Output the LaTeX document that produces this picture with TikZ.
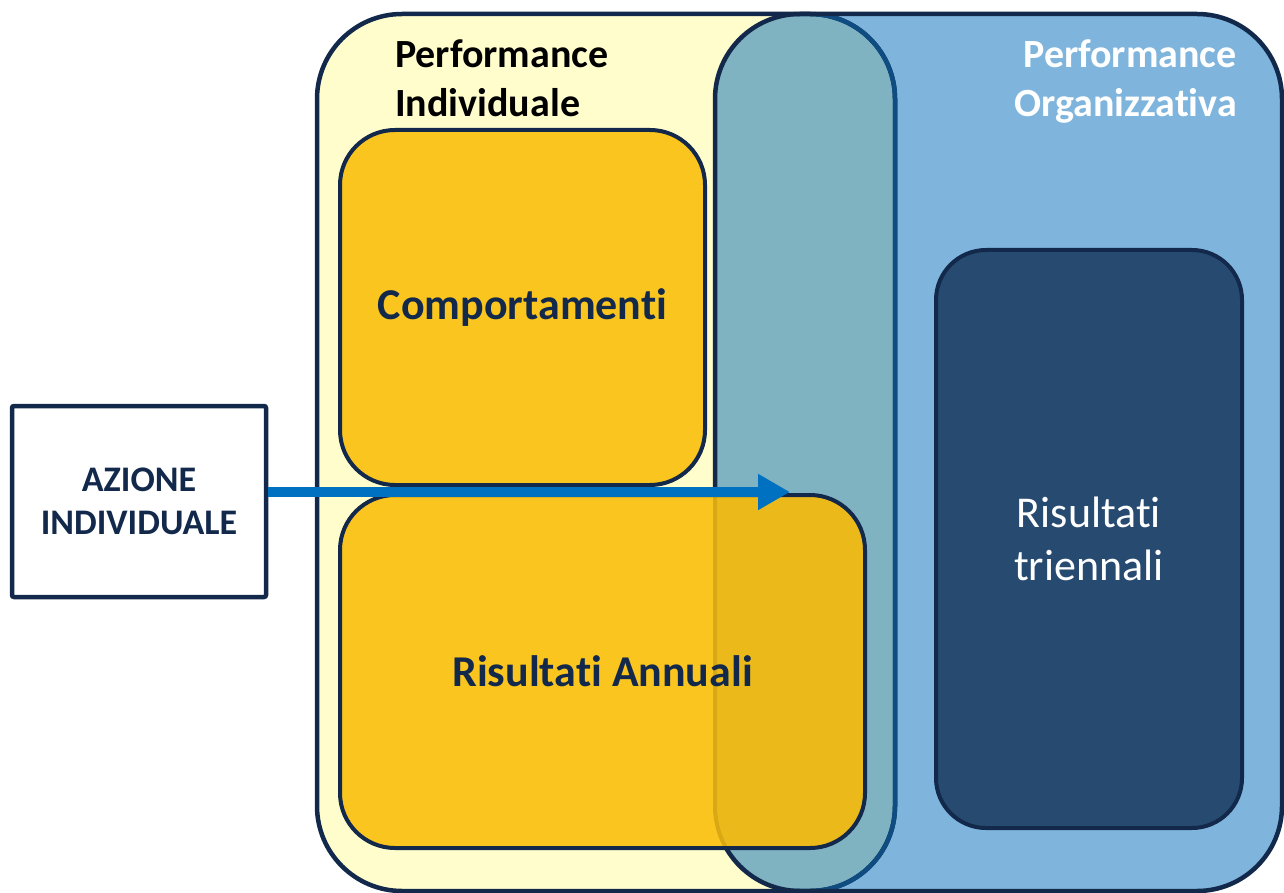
\documentclass[tikz,border=0pt]{standalone}
\usepackage{fontspec}
\setmainfont{Carlito}[Ligatures={NoCommon}]
\usetikzlibrary{arrows.meta}
\definecolor{navy}{HTML}{13294B}
\definecolor{paleyellow}{HTML}{FFFDCC}
\definecolor{lightblue}{HTML}{7FB5DD}
\definecolor{teal}{HTML}{7FB3C1}
\definecolor{gold}{HTML}{FBC51F}
\definecolor{golddark}{HTML}{EBBA1A}
\definecolor{goldline}{HTML}{D8A914}
\definecolor{darkblue}{HTML}{264A70}
\definecolor{arrowblue}{HTML}{0070C0}
\definecolor{edgeblue}{HTML}{0F4C81}
\tikzset{
  bigbox/.style={rounded corners=85pt},
  innerbox/.style={draw=navy, line width=4pt, fill=gold, rounded corners=55pt,
    text=navy, font=\bfseries\fontsize{44}{53}\selectfont, align=center, inner sep=0pt},
  darkbox/.style={draw=navy, line width=4pt, fill=darkblue, rounded corners=50pt,
    text=white, font=\fontsize{44}{53}\selectfont, align=center, inner sep=0pt},
  plainbox/.style={draw=navy, line width=4.5pt, fill=white, rounded corners=2pt,
    text=navy, font=\bfseries\fontsize{36}{43}\selectfont, align=center, inner sep=0pt},
  title/.style={font=\bfseries\fontsize{40}{49}\selectfont, inner sep=0pt},
  flow/.style={arrowblue, line width=10pt, -{Triangle[length=32pt,width=34pt]}}
}
\begin{document}
\begin{tikzpicture}[x=1pt,y=-1pt]
\useasboundingbox (0,0) rectangle (1284,893);
% large areas
\fill[paleyellow, bigbox] (317,14) rectangle (895,891);
\fill[lightblue, bigbox] (715,14) rectangle (1282,891);
\begin{scope}
  \clip[bigbox] (317,14) rectangle (895,891);
  \fill[teal, bigbox] (715,14) rectangle (1282,891);
\end{scope}
\draw[navy, line width=4.5pt, bigbox] (317,14) rectangle (895,891);
\begin{scope}
  \clip[bigbox] (715,14) rectangle (1282,891);
  \draw[edgeblue, line width=4.5pt, bigbox] (317,14) rectangle (895,891);
\end{scope}
\draw[navy, line width=4.5pt, bigbox] (715,14) rectangle (1282,891);

% titles
\node[title, anchor=base west, align=left, text=black] (tind) at (395,117)
  {Performance\\Individuale};
\node[title, anchor=base east, align=right, text=white] (torg) at (1237,117)
  {Performance\\Organizzativa};

% inner boxes
\node[innerbox, minimum width=365pt, minimum height=355pt] (comp) at (522.5,307.5)
  {Comportamenti};
% annual results: lighter fill, darker where it overlaps the blue area
\fill[gold, rounded corners=55pt] (340,495) rectangle (865,848);
\begin{scope}
  \clip[rounded corners=55pt] (340,495) rectangle (865,848);
  \begin{scope}
    \clip[bigbox] (715,14) rectangle (1282,891);
    \fill[golddark] (300,480) rectangle (900,860);
  \end{scope}
  \draw[goldline, line width=4pt, bigbox] (715,14) rectangle (1282,891);
\end{scope}
\node[innerbox, fill=none, minimum width=525pt, minimum height=353pt] (annual)
  at (602.5,671.5) {Risultati Annuali};
\node[darkbox, minimum width=306pt, minimum height=578pt] (trienn) at (1089,539)
  {Risultati\\triennali};

% action box and arrow
\node[plainbox, minimum width=254pt, minimum height=191pt] (azione) at (139,501.5)
  {AZIONE\\INDIVIDUALE};
\coordinate (tip) at (790,492);
\draw[flow] ([yshift=9.5pt]azione.east) -- (tip);
\end{tikzpicture}
\end{document}
